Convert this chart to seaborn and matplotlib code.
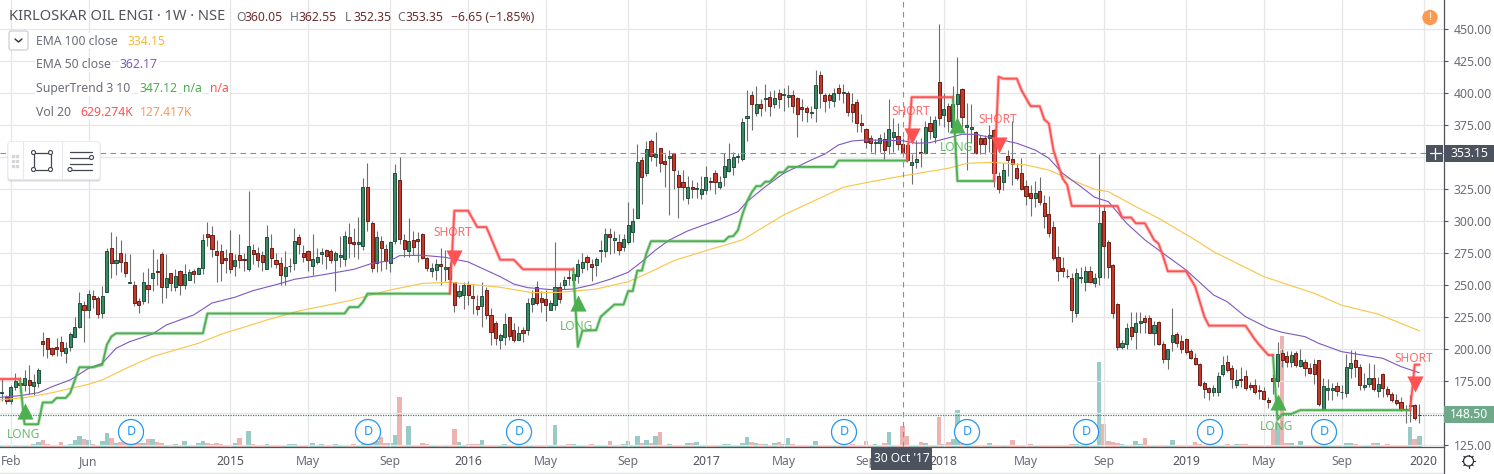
"""Weekly candlestick chart of Kirloskar Oil Engines with EMA, SuperTrend and volume."""
import matplotlib
matplotlib.use("Agg")
import matplotlib.pyplot as plt
from matplotlib.patches import Circle, FancyBboxPatch, Rectangle
import pandas as pd
import seaborn as sns

# weekly OHLC, first bar is two weeks before the Feb 2014 tick
open_px = [
    165.5, 162, 159.5, 170, 173, 172, 175.5, 171, 173, 206,
    208, 200.5, 201, 205, 197, 201.5, 209, 217, 234, 230,
    241, 240, 228, 244.5, 279, 267, 274.5, 267.5, 251.5, 250,
    237, 237, 250, 255.5, 261, 274, 248, 259, 248, 261,
    250, 254, 261, 258.5, 263, 289.5, 289, 276, 276, 270.5,
    275, 265, 273, 270, 262, 277.5, 274.5, 273.5, 262, 279,
    269, 267, 257, 264.5, 267, 287, 275, 276, 265, 268,
    274, 277, 276, 269, 272, 270, 287, 283, 282, 280.5,
    326, 298, 267, 284, 278, 267, 284.5, 332, 285, 276.5,
    285, 286, 290, 271, 261, 261.5, 266, 262.5, 264, 252,
    241, 242, 250, 241, 233, 233, 245.5, 226, 220, 207,
    209, 225, 215, 207, 215, 215, 235, 248.5, 240, 239,
    230.5, 234, 248.5, 250, 256, 254, 257, 263, 272, 266,
    265.5, 276.5, 276, 290, 285, 283, 279.5, 283, 291.5, 302,
    347.5, 337, 362, 350, 357, 347, 349, 353, 336, 330,
    318, 326, 325, 321, 324, 331, 337.5, 326, 334.5, 339,
    342, 350, 348, 380, 398.5, 384, 391.5, 395, 397, 391,
    400, 398.5, 396.5, 398.5, 395.5, 389, 388, 384.5, 388, 414,
    398.5, 398, 393.5, 404, 400, 400, 391, 393, 376.5, 372,
    365, 361, 361, 364, 358, 365.5, 366, 360, 359, 343.5,
    346, 353.5, 353, 376, 365.5, 408.5, 382.5, 390, 373.5, 391,
    403, 373, 372, 369, 365, 365, 364.5, 371, 335, 330,
    350.5, 348, 341, 337.5, 327, 321.5, 318, 323, 314, 305,
    295, 272, 263, 257, 255, 228, 255, 252.5, 261, 251,
    256, 307.5, 283, 265.5, 235, 201.5, 204, 217, 213, 220,
    224, 224, 212, 220.5, 204, 192, 205, 211.5, 206, 207.5,
    198, 192.5, 188, 173, 169.5, 166, 166.5, 180, 190, 185,
    172, 176, 179, 172, 172, 168, 167, 160, 177.5, 174.5,
    197, 194, 190, 196.5, 186.5, 190, 185, 188, 191, 152.5,
    167.5, 168, 171, 166, 165.5, 185, 191, 186, 170, 172.5,
    177.5, 167, 180, 168.5, 165, 160, 158.5, 153, 155.5, 156,
    148,
]
high_px = [
    176, 164, 172, 181, 178, 183, 187, 180, 185, 213,
    208.5, 201.5, 208, 210, 205, 213, 224.5, 244, 237, 246,
    246, 241.5, 249, 279, 291, 288, 285, 275, 274, 253,
    240, 260, 263, 278, 270, 275.5, 274, 259.5, 262, 261.5,
    266, 262, 262, 264, 290, 299, 296, 285, 282, 278,
    293, 274, 290, 275, 323, 282, 279.5, 276, 297, 290,
    275, 272, 276, 271, 294, 290, 281, 277, 290, 279,
    279, 278, 278, 276, 288, 292, 298, 294, 303, 333,
    345, 300, 292, 288, 282, 284, 344, 350, 290, 302,
    292, 291, 290.5, 272, 267, 270, 279, 277, 268, 252.5,
    250, 252, 253, 250, 242, 252, 248, 232, 222, 212,
    228, 225, 220, 218, 217, 240, 246, 253, 245, 246,
    238, 283, 252, 257, 262, 264, 270, 275, 273, 270,
    272, 285, 294, 294, 292, 290, 290, 315, 310, 360,
    350, 362, 364, 369, 357, 352, 355, 353, 340, 340,
    335, 332, 330, 335, 343, 334, 340, 335, 353, 361,
    354, 353, 380, 402, 401, 405, 395, 407, 401, 402,
    403, 404, 406, 402, 397, 395, 390, 390, 418, 417,
    400, 400, 404, 407, 407, 401, 400, 395, 383, 372.5,
    367, 364, 368, 369, 395, 380, 376, 365, 360, 352,
    363, 365, 378, 382, 382, 454, 400, 392, 405, 428,
    404, 392, 391, 370, 367, 367, 375, 372, 338, 345,
    355, 378, 345, 349, 332, 328, 331, 334, 320, 319,
    300, 280, 272, 262, 259, 263, 264, 265, 265, 259,
    352, 312, 285, 266, 236, 207, 220, 229, 229, 229,
    226, 226, 222, 222, 206, 200, 232, 213, 211, 208,
    200, 197, 189, 175, 170, 172, 182, 194, 195, 187,
    184, 186, 183, 174, 176, 172, 170, 162, 180, 205,
    200, 198, 198, 198, 199.5, 192, 189, 192, 191.5, 177,
    176, 173, 174, 172, 196, 199, 198, 188, 181, 189,
    188, 178, 181, 171, 166, 165, 162, 156, 164, 156.5,
    157,
]
low_px = [
    159, 157, 157, 168, 166, 167, 165, 164, 170, 194,
    193, 194, 194, 194.5, 189, 198, 209, 216, 205, 224,
    232, 224, 224, 244, 255.5, 257.5, 260, 256, 251, 233,
    228, 235, 236, 245, 250, 236, 240, 245, 245, 242,
    247, 254, 251, 258, 258, 280, 272, 252, 253, 259,
    259.5, 257, 263, 261, 261, 266, 264, 261, 262, 264,
    263, 250, 250, 260, 261.5, 274, 268, 261, 257.5, 266,
    266, 262, 267, 245, 264, 265, 271, 272, 270, 277.5,
    292, 260, 260, 261, 262, 260, 282, 282, 272, 272,
    273, 268, 270, 261, 256, 254, 250, 253, 250, 229,
    240, 231, 234, 227, 226, 217, 223, 203, 203, 200,
    203, 207, 205, 207, 205, 211, 229, 234, 229, 222,
    230, 230, 236, 247, 250, 250, 251, 259, 261.5, 253,
    257, 268, 272, 274, 275, 273, 276, 282, 283, 302,
    313, 335, 347, 343, 338, 326, 304.5, 325, 302.5, 316,
    313, 318, 318, 317, 321, 324, 321, 325, 327, 338,
    336, 345, 347, 362, 371, 382, 382, 386, 382, 388,
    388, 386, 389, 384, 365.5, 378, 377, 380, 377, 388,
    385, 388, 389, 394, 392, 382, 377, 369, 369, 356.5,
    354, 352.5, 354, 348.5, 352, 354, 355, 352.5, 346, 329,
    341, 342, 352, 364, 361, 375, 373, 369, 370, 370,
    373, 340, 361, 352, 352, 352, 354, 326, 322, 324,
    335, 328, 332, 324, 312, 304, 311, 312, 294, 287,
    269, 253, 256, 255, 221, 225, 251, 245, 251, 248,
    250, 255, 255, 224, 199, 200, 200, 207, 200, 212,
    212, 212, 203, 203, 189, 184, 198, 201.5, 197, 196,
    192, 187, 171, 161.5, 160, 163, 163, 179, 182, 169,
    169, 170, 168, 168, 165, 161, 160, 154, 165, 170,
    186, 186, 185.5, 186, 185.5, 179, 180, 172.5, 155, 152,
    160, 160, 163, 161, 162, 177.5, 178, 168, 168, 170,
    167, 162, 162.5, 162, 158, 156, 151, 142, 143, 144,
    142,
]
close_px = [
    166, 159.5, 170, 175, 172, 177, 172, 174, 183.5, 204,
    199.5, 196, 200, 198.5, 200.5, 211.5, 217, 235.5, 230.5, 242.5,
    238.5, 227.5, 241, 276, 267, 269, 268, 259, 252.5, 236,
    234, 252, 247, 259, 260, 248.5, 255, 251, 256.5, 250,
    258, 260, 258.5, 263, 285, 287.5, 278, 273.5, 267, 269.5,
    262, 269, 269, 269, 280, 274, 269.5, 268, 287.5, 271,
    266, 257.5, 264, 265, 284.5, 282, 272, 269.5, 270, 272,
    275.5, 272.5, 269, 275, 273, 288, 282.5, 282, 283, 326,
    300, 263, 287, 279, 268.5, 283, 337, 286, 278, 284,
    279.5, 284, 271, 263, 263, 266, 265, 263.5, 254.5, 234,
    245, 250, 242, 240, 231, 241, 226.5, 213, 208, 210.5,
    219, 210, 207, 212, 212, 236, 240, 236, 236.5, 234,
    235.5, 248.5, 239, 254, 255, 258, 266, 268, 268, 264,
    270, 277.5, 290, 287, 286.5, 277, 286, 297, 300, 346,
    334, 356, 350.5, 352, 345, 344.5, 350.5, 339.5, 326.5, 326.5,
    326, 325, 325.5, 325, 334, 330, 330, 330, 343, 348,
    350, 350.5, 377.5, 382, 391, 391.5, 388, 396, 390, 396,
    395, 399, 398.5, 389.5, 383.5, 387, 385, 385, 406, 400,
    393.5, 394, 400, 400, 400.5, 385, 385, 376.5, 375, 361.5,
    361, 361.5, 365, 355, 372, 369, 360, 353, 347.5, 345.5,
    348.5, 353, 373, 370, 379, 380, 387.5, 378, 391.5, 399,
    381, 375, 373, 353, 360, 360, 367, 337.5, 325, 340,
    347.5, 344, 333.5, 325, 319.5, 318, 322, 314.5, 304, 290.5,
    271, 261, 261, 256.5, 230.5, 259, 256, 260.5, 252.5, 255,
    298, 280, 264, 228, 201, 204.5, 216, 210, 220, 221.5,
    221, 212, 218.5, 204, 192, 199.5, 210.5, 204.5, 200, 197.5,
    193, 188, 171.5, 168.5, 166, 169, 178.5, 187, 183, 176,
    175.5, 175.5, 169.5, 170, 166, 167, 161, 158, 174.5, 196,
    191.5, 190, 195, 187, 191, 185, 181, 180, 156.5, 170.5,
    169, 169.5, 167, 166.5, 185.5, 188.5, 186, 172, 172, 177.5,
    168.5, 172.5, 169, 165, 160, 157.5, 152.5, 152, 156, 146,
    148.5,
]
volume_k = [
    60, 30, 30, 60, 30, 30, 60, 90, 150, 210,
    90, 60, 60, 150, 60, 90, 210, 330, 240, 210,
    90, 60, 180, 420, 270, 120, 150, 120, 90, 120,
    120, 120, 240, 240, 150, 120, 60, 60, 90, 60,
    180, 30, 30, 120, 180, 120, 90, 120, 90, 60,
    30, 120, 270, 60, 480, 90, 60, 60, 90, 60,
    60, 30, 30, 90, 90, 60, 30, 30, 120, 60,
    90, 60, 30, 90, 30, 30, 60, 90, 60, 90,
    90, 120, 180, 300, 120, 120, 360, 1500, 60, 630,
    60, 60, 120, 90, 60, 30, 60, 30, 60, 540,
    150, 60, 90, 90, 90, 210, 60, 30, 30, 30,
    90, 30, 60, 90, 60, 60, 30, 30, 30, 30,
    30, 660, 60, 60, 90, 90, 60, 60, 30, 90,
    60, 60, 60, 180, 60, 30, 90, 180, 60, 330,
    120, 210, 120, 330, 450, 30, 90, 60, 60, 60,
    120, 120, 150, 30, 60, 30, 60, 60, 90, 90,
    60, 60, 120, 300, 150, 120, 90, 90, 30, 120,
    150, 90, 270, 90, 60, 30, 60, 60, 180, 60,
    60, 30, 60, 60, 60, 60, 90, 30, 30, 180,
    30, 90, 60, 120, 450, 60, 60, 629, 330, 60,
    30, 150, 120, 30, 60, 900, 90, 150, 240, 1110,
    90, 60, 30, 30, 30, 30, 120, 60, 30, 60,
    30, 210, 30, 30, 60, 90, 30, 30, 60, 30,
    30, 30, 30, 60, 90, 90, 60, 90, 60, 60,
    2550, 690, 180, 150, 120, 90, 60, 60, 180, 90,
    270, 30, 60, 60, 60, 30, 210, 30, 30, 60,
    60, 150, 90, 60, 60, 60, 60, 60, 90, 30,
    90, 90, 90, 60, 60, 60, 30, 60, 540, 720,
    3330, 120, 120, 60, 180, 60, 60, 60, 60, 60,
    30, 60, 60, 30, 120, 120, 90, 30, 30, 60,
    120, 120, 60, 90, 60, 60, 60, 60, 600, 240,
    330,
]
bars = list(range(-2, 309))

# moving averages, read at the bends of each line (bar number, price)
ema50_bar = [-3, 2, 6, 9, 13, 17, 20, 23, 26, 31, 34, 40, 44, 49, 53, 58, 62, 68, 75, 79, 83, 85, 90, 95,
             100, 107, 110, 113, 119, 123, 127, 131, 135, 138, 141, 144, 148, 151, 155, 159, 161, 165,
             169, 175, 178, 181, 184, 187, 195, 198, 201, 206, 208, 211, 216, 220, 224, 227, 230, 234,
             237, 240, 244, 248, 251, 255, 257, 263, 266, 270, 275, 278, 283, 286, 291, 300, 304, 308]
ema50_val = [161.8, 163.3, 165.6, 170.3, 175.6, 184.7, 188.6, 200.3, 205.5, 211.5, 218.5, 226.4, 235.7,
             240.2, 245.4, 250, 254.2, 257.6, 262, 266.7, 268.8, 272.7, 273, 271.4, 267.8, 256.3, 250.5,
             247.7, 245.9, 246.6, 249.8, 254.2, 259.7, 268, 277.1, 284.9, 292, 295.9, 301, 307, 314.9,
             326.6, 337, 347.4, 352.1, 359.2, 362.3, 363.1, 362.5, 360.5, 361, 365.6, 367.5, 367.5,
             363.6, 360.5, 355.2, 348.8, 337, 326.6, 318.3, 314.9, 298, 285, 277.1, 266.7, 261.5, 242,
             236.7, 225, 216, 212.8, 209.4, 204.2, 197.7, 192.5, 186, 181.2]
ema100_bar = [-3, 3, 9, 17, 20, 26, 31, 41, 46, 56, 63, 74, 83, 90, 96, 107, 114, 120, 128, 135, 140, 145,
              152, 160, 169, 182, 187, 195, 205, 209, 215, 222, 227, 232, 237, 240, 246, 251, 259, 263,
              274, 285, 291, 299, 308]
ema100_val = [159.9, 161.7, 165.6, 172.2, 175.6, 186, 193.8, 204.2, 211.3, 222.4, 229.5, 237.5, 245.9, 251,
              251.9, 248, 243.8, 244, 246.6, 252.3, 260.2, 268.8, 276.6, 285, 304.5, 326.1, 329.7, 335,
              340.9, 344.8, 345.6, 343.5, 339.6, 331.8, 324.5, 322.7, 311, 301.9, 285, 275.8, 256.3,
              243.3, 234, 227, 214]

# SuperTrend stretches, alternating up (green) and down (red)
up_stretches = [
    ([2, 3, 6, 7, 9, 10, 12, 13, 15, 18, 20, 21, 22, 23, 42, 43, 73, 74, 76, 77, 78, 96],
     [176, 141, 141, 158, 158, 161.5, 161.5, 165.5, 185.5, 185.5, 187.5, 203, 209.5, 212, 212, 227.5,
      227.5, 232.5, 232.5, 236.5, 243, 243]),
    ([123, 124, 125, 128, 129, 132, 134, 135, 136, 137, 138, 139, 140, 156, 157, 158, 159, 160, 161, 162,
      163, 164, 165, 166, 168, 169, 170, 180, 181, 196],
     [262, 201.5, 214, 214.5, 225, 234.5, 234.5, 245, 245, 261, 261, 274.5, 284, 284, 287.5, 288, 292.5,
      305, 315, 322, 327, 327, 330.5, 330.5, 337.8, 337.8, 342, 342, 347, 347]),
    ([206, 207, 215], [396.5, 331, 331]),
    ([276, 277, 278, 280, 282, 306], [195, 144.5, 149, 149, 152, 152]),
]
down_stretches = [
    ([-3, 2], [176, 176]),
    ([96, 97, 100, 102, 104, 107, 110, 112, 123],
     [243, 307.8, 307.8, 295, 295, 269.5, 269.5, 262, 262]),
    ([196, 197, 206], [347, 396.5, 396.5]),
    ([215, 216, 217, 220, 221, 223, 225, 226, 227, 228, 230, 231, 232, 242, 243, 245, 246, 248, 250, 251,
      252, 253, 257, 259, 261, 262, 270, 272, 273, 275, 276],
     [331, 412.5, 411, 411, 402, 389.5, 389.5, 379, 376, 355, 333, 328, 311.5, 311.5, 302.5, 302.5, 298,
      298, 285, 282, 272, 260.5, 260.5, 248.5, 225, 218, 218, 207.5, 203, 195, 195]),
    ([306, 307, 308], [152, 187.5, 187.5]),
]

# buy and sell signals: bar, arrow price, label price
long_bar = [3, 124, 207, 277]
long_arrow = [151.3, 235.7, 374.8, 158.4]
long_text = [132.6, 217, 356.8, 139.6]
short_bar = [97, 197, 216, 307]
short_arrow = [270.9, 366.2, 359.1, 172.5]
short_text = [290.4, 385.7, 378.7, 192]

tick_bars = [0, 17, 48, 65, 83, 100, 117, 135, 152, 169, 187, 204, 222, 239, 257, 274, 291, 309]
tick_labels = ["Feb", "Jun", "2015", "May", "Sep", "2016", "May", "Sep", "2017",
               "May", "Sep", "2018", "May", "Sep", "2019", "May", "Sep", "2020"]
price_ticks = list(range(125, 475, 25))
covered_ticks = [150, 350]  # these two sit under the price labels on the scale
dividend_x = [131, 368, 519, 844, 967, 1086, 1210, 1324]

W, H = 1494, 474
GREEN, RED, GRAY = "#4caf50", "#ff5252", "#50535e"

sns.set_style("white")
plt.rcParams["font.family"] = ["Noto Sans", "DejaVu Sans"]
plt.rcParams["font.size"] = 8.6

fig = plt.figure(figsize=(W / 100, H / 100), dpi=100)
ax = fig.add_axes([0, 1 - 447 / H, 1444 / W, 447 / H])
ax_vol = ax.twinx()
ax.set_zorder(2)
ax.patch.set_visible(False)
ax_vol.set_zorder(1)

# volume along the bottom of the pane
df = pd.DataFrame({"bar": bars, "open": open_px, "high": high_px, "low": low_px,
                   "close": close_px, "volume": volume_k})
df["side"] = ["up" if c >= o else "down" for o, c in zip(df["open"], df["close"])]
sns.barplot(data=df, x="bar", y="volume", hue="side", native_scale=True, dodge=False, width=1,
            palette={"up": "#92d2cc", "down": "#f7a9a7"}, errorbar=None, legend=False,
            linewidth=0, ax=ax_vol)
ax_vol.set_ylim(0, 447 * 30)
ax_vol.set_yticks([])
ax_vol.set_xlabel("")
ax_vol.set_ylabel("")

# candles
for side, fill, edge in [("up", "#3b8a63", "#1d4f3c"), ("down", "#c8382a", "#6a1f16")]:
    part = df[df["side"] == side]
    ax.vlines(part["bar"], part["low"], part["high"], color="#6e6e6e", lw=0.8, zorder=3)
    ax.bar(part["bar"], part["close"] - part["open"], bottom=part["open"], width=0.68,
           color=fill, edgecolor=edge, linewidth=0.7, zorder=4)

# averages and SuperTrend
sns.lineplot(x=ema100_bar, y=ema100_val, color="#f9c74f", lw=0.85, estimator=None, sort=False, ax=ax, zorder=5)
sns.lineplot(x=ema50_bar, y=ema50_val, color="#7e57c2", lw=0.8, estimator=None, sort=False, ax=ax, zorder=5)
for stretches, colour in [(up_stretches, GREEN), (down_stretches, RED)]:
    for idx, val in stretches:
        sns.lineplot(x=idx, y=val, color=colour, lw=2.6, alpha=0.35, estimator=None, sort=False, ax=ax, zorder=6)
        sns.lineplot(x=idx, y=val, color=colour, lw=1.3, estimator=None, sort=False, ax=ax, zorder=6)

# signals
ax.scatter(long_bar, long_arrow, marker="^", s=135, color=GREEN, linewidths=0, zorder=7)
ax.scatter(short_bar, short_arrow, marker="v", s=135, color=RED, linewidths=0, zorder=7)
for b, v in zip(long_bar, long_text):
    ax.text(b - 0.2, v, "LONG", color=GREEN, alpha=0.85, fontsize=8.6, ha="center", va="center", zorder=7)
for b, v in zip(short_bar, short_text):
    ax.text(b - 0.3, v, "SHORT", color=RED, alpha=0.85, fontsize=8.6, ha="center", va="center", zorder=7)

# last price and crosshair
ax.axhline(148.5, color="#2e8b57", lw=0.9, ls=(0, (1, 1)), zorder=2)
ax.axhline(353.15, color="#8f8f8f", lw=0.8, ls=(0, (5, 4)), zorder=8)
ax.axvline(195, color="#8f8f8f", lw=0.8, ls=(0, (5, 4)), zorder=8)

ax.set_xlim(-10.8 / 4.573, (1444 - 10.8) / 4.573)
ax.set_ylim(450 - (447 - 28.7) / 1.28, 450 + 28.7 / 1.28)
ax.set_xticks(tick_bars)
ax.set_xticklabels(tick_labels)
ax.yaxis.tick_right()
ax.set_yticks(price_ticks)
ax.set_yticklabels(["" if p in covered_ticks else f"{p:.2f}" for p in price_ticks])
ax.grid(True, color="#e6e6e6", lw=0.9)
ax.set_axisbelow(True)
ax.tick_params(axis="both", length=3, width=0.8, color=GRAY, labelcolor="#6a6d78", pad=3, labelsize=8.8)
ax.tick_params(axis="y", pad=4)
for tick, lab in zip(ax.get_xticklabels(), tick_labels):
    if lab.isdigit():
        tick.set_color(GRAY)
        tick.set_fontweight("medium")
for name in ["top", "left"]:
    ax.spines[name].set_visible(False)
    ax_vol.spines[name].set_visible(False)
ax.spines["right"].set_color(GRAY)
ax.spines["bottom"].set_color(GRAY)
ax.spines["right"].set_linewidth(0.9)
ax.spines["bottom"].set_linewidth(0.9)
ax_vol.spines["right"].set_visible(False)
ax_vol.spines["bottom"].set_visible(False)

# screen furniture is placed in pixels on a transparent layer
ui = fig.add_axes([0, 0, 1, 1], zorder=5)
ui.set_xlim(0, W)
ui.set_ylim(H, 0)
ui.axis("off")
ui.patch.set_visible(False)

ui.plot([0, 1444], [473, 473], color="#e2e3e6", lw=1)
ui.plot([1444, 1444], [447, 473], color=GRAY, lw=0.9)

# header row
ui.text(9, 16.5, "KIRLOSKAR OIL ENGI · 1W · NSE", color=GRAY, fontsize=10.55, va="center")
for x, letter, value in [(236, "O", "360.05"), (290, "H", "362.55"), (345, "L", "352.35"), (397, "C", "353.35")]:
    ui.text(x, 17.5, letter, color="#6a6d78", fontsize=8.8, va="center")
    ui.text(x + 8.5, 17.5, value, color="#6b2b2b", fontsize=8.8, va="center")
ui.text(451, 17.5, "−6.65 (−1.85%)", color="#6b2b2b", fontsize=8.8, va="center")

# indicator legend
legend_rows = [
    (41, [(36, "EMA 100 close", "#6a6d78"), (127, "334.15", "#f9b934")]),
    (64.5, [(36, "EMA 50 close", "#6a6d78"), (120, "362.17", "#7e57c2")]),
    (88.5, [(36, "SuperTrend 3 10", "#6a6d78"), (139, "347.12", GREEN), (183, "n/a", GREEN), (210, "n/a", RED)]),
    (112.5, [(36, "Vol 20", "#6a6d78"), (80, "629.274K", RED), (140, "127.417K", "#ff9850")]),
]
for y, pieces in legend_rows:
    for x, text, colour in pieces:
        ui.text(x, y, text, color=colour, fontsize=8.8, va="center",
                bbox=dict(facecolor="white", edgecolor="none", pad=1.0))
ui.add_patch(FancyBboxPatch((9, 31), 19, 19, boxstyle="round,pad=0,rounding_size=2", fc="white", ec="#c8cad3", lw=0.8))
ui.plot([15, 18.5, 22], [39, 42, 39], color="#2a2e39", lw=1)

# drawing toolbar
ui.add_patch(FancyBboxPatch((7.5, 142), 93, 39.5, boxstyle="round,pad=0,rounding_size=3", fc="#c9ccd4", ec="none", alpha=0.7))
ui.add_patch(FancyBboxPatch((8, 141.5), 92, 38, boxstyle="round,pad=0,rounding_size=3", fc="white", ec="#e6e8ec", lw=0.6))
ui.plot([22.5, 22.5], [142, 179], color="#e6e8ec", lw=0.8)
ui.plot([61.5, 61.5], [142, 179], color="#e6e8ec", lw=0.8)
for x in [13, 17]:
    for y in [155.5, 160.5, 165.5]:
        ui.plot(x, y, "s", ms=1.5, color="#d3d5da")
ui.add_patch(Rectangle((33.5, 152.5), 17, 17, fc="none", ec="#434651", lw=0.9))
for x, y in [(33.5, 152.5), (50.5, 152.5), (33.5, 169.5), (50.5, 169.5)]:
    ui.add_patch(Circle((x, y), 2, fc="white", ec="#434651", lw=0.8, zorder=6))
for y, x0, x1, knob in [(151.5, 70, 92, None), (157.5, 70, 90, 91.5), (163.5, 70, 92, None), (169.5, 72, 92, 70)]:
    ui.plot([x0, x1], [y, y], color="#434651", lw=0.9)
    if knob:
        ui.add_patch(Circle((knob, y), 2, fc="white", ec="#434651", lw=0.8, zorder=6))

# dividend flags
for x in dividend_x:
    ui.add_patch(Circle((x, 432), 12.5, fc="white", ec="#2196f3", lw=0.9))
    ui.text(x, 431.5, "D", color="#2196f3", fontsize=9, ha="center", va="center")

# warning badge
ui.add_patch(Circle((1430, 17.5), 7.7, fc="#ff9850", ec="none"))
ui.text(1430, 17.5, "!", color="white", fontsize=8, fontweight="bold", ha="center", va="center")

# price labels on the scale
ui.add_patch(Rectangle((1444, 406), 50, 17, fc="#6fa98a", ec="none"))
ui.text(1469, 414.5, "148.50", color="white", fontsize=8.8, fontweight="bold", ha="center", va="center")
ui.add_patch(Rectangle((1426, 145), 17, 16.5, fc="#4c525e", ec="none"))
ui.add_patch(Rectangle((1444, 145), 50, 16.5, fc="#4c525e", ec="none"))
ui.plot([1429.5, 1440.5], [153, 153], color="white", lw=0.9)
ui.plot([1435, 1435], [147.5, 158.5], color="white", lw=0.9)
ui.text(1469, 153.5, "353.15", color="white", fontsize=8.8, fontweight="bold", ha="center", va="center")

# crosshair date
ui.add_patch(Rectangle((871, 447), 61, 23, fc="#4c525e", ec="none"))
ui.text(901.5, 458.5, "30 Oct '17", color="white", fontsize=8.6, fontweight="bold", ha="center", va="center")

# settings gear
ui.add_patch(Circle((1468.5, 461), 5, fc="white", ec="#2a2e39", lw=0.9))
for dx, dy in [(0, 6.5), (0, -6.5), (6.5, 0), (-6.5, 0), (4.6, 4.6), (-4.6, 4.6), (4.6, -4.6), (-4.6, -4.6)]:
    ui.plot([1468.5 + dx * 0.78, 1468.5 + dx], [461 + dy * 0.78, 461 + dy], color="#2a2e39", lw=0.9)

fig.savefig("out.png", dpi=100, facecolor="white")
